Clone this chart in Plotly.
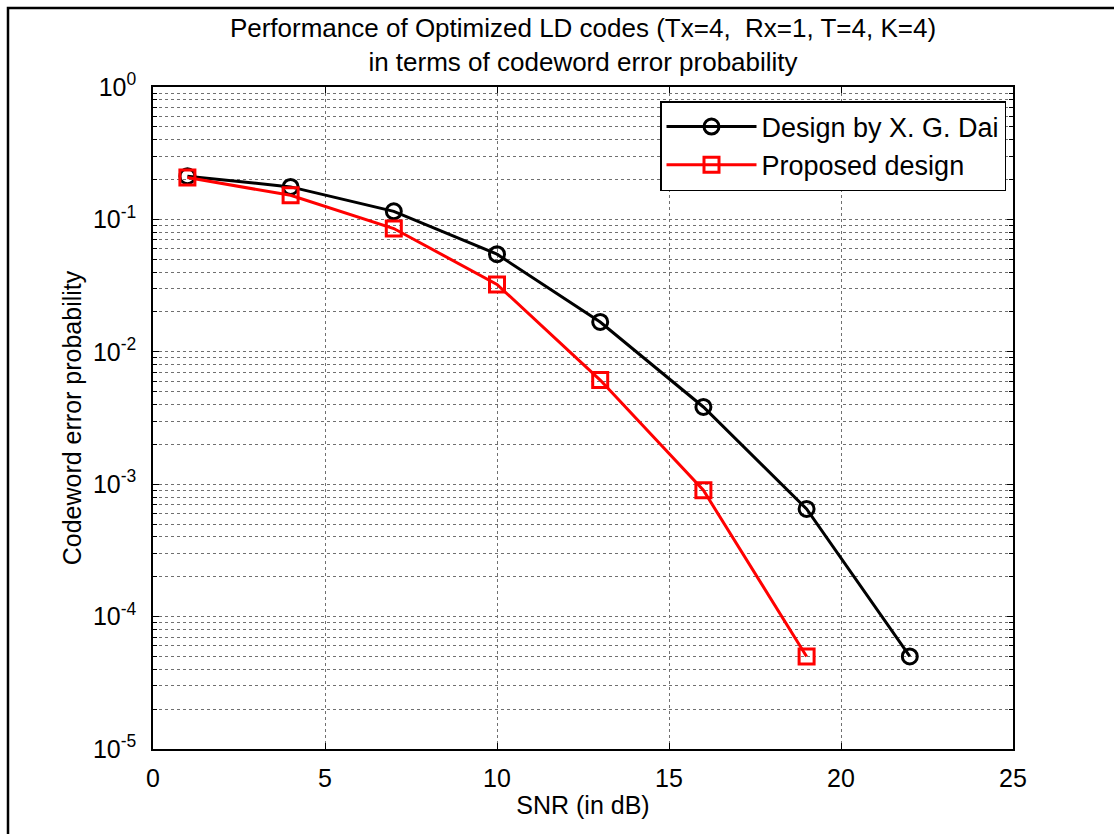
import plotly.graph_objects as go

snr = [1, 4, 7, 10, 13, 16, 19, 22]
dai = [0.212, 0.176, 0.115, 0.0546, 0.0168, 0.00383, 0.00065, 0.00005]
snr_prop = [1, 4, 7, 10, 13, 16, 19]
prop = [0.207, 0.152, 0.0853, 0.0323, 0.00612, 0.0009, 0.00005]

ytick_vals = [1, 1e-1, 1e-2, 1e-3, 1e-4, 1e-5]
ytick_text = ["10<sup>0</sup>", "10<sup>-1</sup>", "10<sup>-2</sup>", "10<sup>-3</sup>",
              "10<sup>-4</sup>", "10<sup>-5</sup>"]
xtick_vals = [0, 5, 10, 15, 20, 25]

FONT = "Liberation Sans"

fig = go.Figure()
fig.add_trace(go.Scatter(
    x=snr, y=dai, mode="lines+markers", name="Design by X. G. Dai",
    line=dict(color="black", width=3),
    marker=dict(symbol="circle-open", size=15, color="black", line=dict(width=3)),
))
fig.add_trace(go.Scatter(
    x=snr_prop, y=prop, mode="lines+markers", name="Proposed design",
    line=dict(color="#ff0000", width=3),
    marker=dict(symbol="square-open", size=15, color="#ff0000", line=dict(width=3)),
))

W, H = 1114, 834
L, R, T, B = 153, 101, 87, 85
PW, PH = W - L - R, H - T - B

axis_common = dict(
    showline=True, linecolor="black", linewidth=1.5, mirror="allticks",
    ticks="inside", ticklen=6, tickcolor="black",
    showgrid=True, gridcolor="#707070", griddash="dot", gridwidth=1,
    zeroline=False,
    tickfont=dict(family=FONT, size=25, color="black"),
)

fig.update_xaxes(
    range=[0, 25], tickvals=xtick_vals,
    title=dict(text="SNR (in dB)", font=dict(family=FONT, size=25, color="black"), standoff=6),
    ticklabelstandoff=6,
    **axis_common,
)
fig.update_yaxes(
    type="log", range=[-5, 0], tickvals=ytick_vals, ticktext=ytick_text,
    title=dict(text="Codeword error probability", font=dict(family=FONT, size=25, color="black"), standoff=4),
    ticklabelstandoff=10,
    minor=dict(dtick="D1", showgrid=True, gridcolor="#707070", griddash="dot",
               ticks="inside", ticklen=4, tickcolor="black"),
    **axis_common,
)

fig.update_layout(
    width=W, height=H,
    margin=dict(l=L, r=R, t=T, b=B),
    paper_bgcolor="white", plot_bgcolor="white",
    title=dict(
        text="Performance of Optimized LD codes (Tx=4,  Rx=1, T=4, K=4)<br>in terms of codeword error probability",
        x=(153 + 1013) / 2 / W, xanchor="center", y=1 - 37 / H, yanchor="middle",
        font=dict(family=FONT, size=26, color="black"),
    ),
    legend=dict(
        x=(660 - L) / PW, y=(749 - 101) / PH, xanchor="left", yanchor="top",
        bgcolor="white", bordercolor="black", borderwidth=1.5,
        font=dict(family=FONT, size=27, color="black"),
        tracegroupgap=2, itemwidth=90,
    ),
    showlegend=True,
    shapes=[dict(type="rect", xref="paper", yref="paper",
                 x0=(8 - L) / PW, x1=(W + 10 - L) / PW,
                 y0=-(B + 10) / PH, y1=1 + (T - 8) / PH,
                 line=dict(color="black", width=2.5), fillcolor="rgba(0,0,0,0)", layer="above")],
)

fig.write_html("out.html")
